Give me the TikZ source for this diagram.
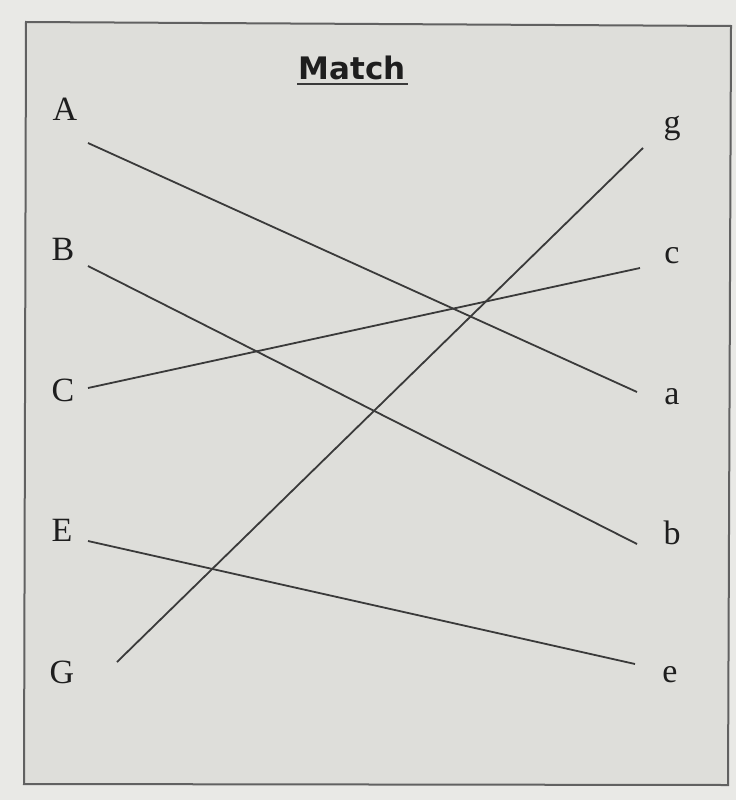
\documentclass[tikz,border=0pt]{standalone}
\usepackage{fontspec}
\setmainfont{Liberation Serif}
\newfontfamily\titlefont{DejaVu Sans}
\definecolor{paper}{HTML}{DEDEDA}
\definecolor{outer}{HTML}{E9E9E6}
\definecolor{ink}{HTML}{1E1E1E}
\definecolor{linec}{HTML}{3A3A3A}
\begin{document}
\begin{tikzpicture}[x=1pt,y=-1pt,
  letter/.style={text=ink,font=\fontsize{34}{34}\selectfont,inner sep=0pt,anchor=center},
  match/.style={draw=linec,line width=1.8pt},
  framebox/.style={draw=linec!80,line width=2pt,fill=paper}]
\useasboundingbox (0,0) rectangle (736,800);
\fill[outer] (0,0) rectangle (736,800);
\draw[framebox] (26,22) -- (731,26) -- (728,785) -- (24,784) -- cycle;
\node[text=ink,font=\titlefont\bfseries\fontsize{31}{31}\selectfont,inner sep=0pt] (title) at (352,68) {Match};
\draw[linec,line width=2.2pt] (297,84) -- (408,84);
% left letters
\node[letter] (A) at (65,109) {A};
\node[letter] (B) at (63,249) {B};
\node[letter] (C) at (63,390) {C};
\node[letter] (E) at (62,530) {E};
\node[letter] (G) at (62,672) {G};
% right letters
\node[letter] (g) at (672,128) {g};
\node[letter] (c) at (672,256) {c};
\node[letter] (a) at (672,397) {a};
\node[letter] (b) at (672,533) {b};
\node[letter] (e) at (670,675) {e};
% endpoints
\coordinate (A1) at (88,143);
\coordinate (a1) at (637,392);
\coordinate (B1) at (88,266);
\coordinate (b1) at (637,544);
\coordinate (g1) at (643,148);
\coordinate (G1) at (117,662);
\coordinate (C1) at (88,388);
\coordinate (c1) at (640,268);
\coordinate (E1) at (88,541);
\coordinate (e1) at (635,664);
\draw[match] (A1) -- (a1);
\draw[match] (B1) -- (b1);
\draw[match] (g1) -- (G1);
\draw[match] (C1) -- (c1);
\draw[match] (E1) -- (e1);
\end{tikzpicture}
\end{document}
